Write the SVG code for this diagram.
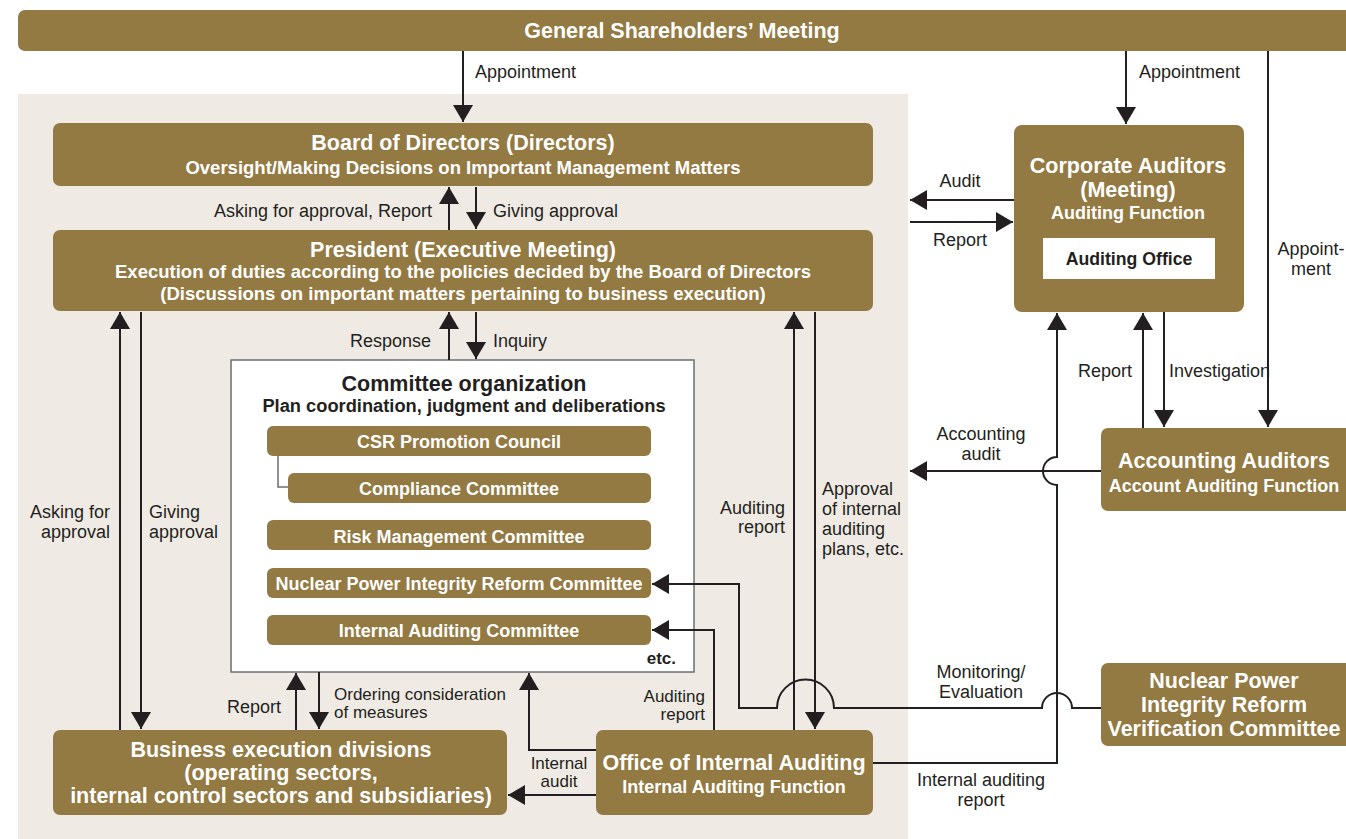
<svg xmlns="http://www.w3.org/2000/svg" width="1346" height="839" viewBox="0 0 1346 839">
<style>
.node{fill:#937a42}
.t{font-family:"Liberation Sans",Arial,sans-serif;fill:#fff;font-weight:bold;text-anchor:middle}
.h{font-size:21.5px}
.s{font-size:18px}
.s2{font-size:18.5px}
.c{font-size:18px}
.lb{font-family:"Liberation Sans",Arial,sans-serif;fill:#231f20;font-size:18px}
.sm{font-size:17px}
.m{text-anchor:middle}
.e{text-anchor:end}
.ln{fill:none;stroke:#231f20;stroke-width:2}
.ar{marker-end:url(#ah)}
</style>
<defs>
<marker id="ah" markerUnits="userSpaceOnUse" markerWidth="18" markerHeight="20" refX="17" refY="10" orient="auto">
<path d="M0,0 L17,10 L0,20 z" fill="#231f20"/>
</marker>
</defs>
<rect x="0" y="0" width="1346" height="839" fill="#fff"/>
<rect x="18" y="94" width="890" height="745" fill="#efebe4"/>

<g id="shareholders">
<rect class="node" x="18" y="10" width="1340" height="41" rx="7"/>
<text class="t h" x="682" y="38">General Shareholders’ Meeting</text>
</g>
<g id="board">
<rect class="node" x="53" y="123" width="820" height="63" rx="7"/>
<text class="t h" x="463" y="150">Board of Directors (Directors)</text>
<text class="t s2" x="463" y="174">Oversight/Making Decisions on Important Management Matters</text>
</g>
<g id="president">
<rect class="node" x="53" y="230" width="820" height="81" rx="7"/>
<text class="t h" x="463" y="257">President (Executive Meeting)</text>
<text class="t s2" x="463" y="278">Execution of duties according to the policies decided by the Board of Directors</text>
<text class="t s2" x="463" y="300">(Discussions on important matters pertaining to business execution)</text>
</g>
<g id="committee">
<rect x="231" y="360" width="463" height="312" fill="#fff" stroke="#6d6e70" stroke-width="1.5"/>
<text class="lb m" x="464" y="391" style="font-weight:bold;font-size:21.5px">Committee organization</text>
<text class="lb m" x="464" y="412" style="font-weight:bold;font-size:18.3px">Plan coordination, judgment and deliberations</text>
<path d="M278,456 V487 H288" fill="none" stroke="#6d6e70" stroke-width="1.5"/>
<g id="csr"><rect class="node" x="267" y="426" width="384" height="30" rx="6"/><text class="t c" x="459" y="448">CSR Promotion Council</text></g>
<g id="compliance"><rect class="node" x="288" y="473" width="363" height="30" rx="6"/><text class="t c" x="459" y="495">Compliance Committee</text></g>
<g id="risk"><rect class="node" x="267" y="520" width="384" height="30" rx="6"/><text class="t c" x="459" y="543">Risk Management Committee</text></g>
<g id="npirc"><rect class="node" x="267" y="568" width="384" height="30" rx="6"/><text class="t c" x="459" y="590">Nuclear Power Integrity Reform Committee</text></g>
<g id="iac"><rect class="node" x="267" y="615" width="384" height="30" rx="6"/><text class="t c" x="459" y="637">Internal Auditing Committee</text></g>
<text class="lb e" x="676" y="664" style="font-weight:bold;font-size:17px">etc.</text>
</g>
<g id="business">
<rect class="node" x="53" y="730" width="454" height="85" rx="7"/>
<text class="t h" x="281" y="757">Business execution divisions</text>
<text class="t h" x="281" y="780">(operating sectors,</text>
<text class="t h" x="281" y="803">internal control sectors and subsidiaries)</text>
</g>
<g id="office">
<rect class="node" x="596" y="730" width="277" height="85" rx="7"/>
<text class="t h" x="734" y="770">Office of Internal Auditing</text>
<text class="t s" x="734" y="793">Internal Auditing Function</text>
</g>
<g id="corporate">
<rect class="node" x="1014" y="125" width="230" height="187" rx="8"/>
<text class="t h" x="1128" y="173">Corporate Auditors</text>
<text class="t h" x="1128" y="197">(Meeting)</text>
<text class="t s" x="1128" y="219">Auditing Function</text>
<rect x="1043" y="238" width="172" height="41" fill="#fff"/>
<text class="lb m" x="1129" y="265" style="font-weight:bold;font-size:17.7px">Auditing Office</text>
</g>
<g id="accounting">
<rect class="node" x="1101" y="428" width="255" height="83" rx="7"/>
<text class="t h" x="1224" y="468">Accounting Auditors</text>
<text class="t s" x="1224" y="492">Account Auditing Function</text>
</g>
<g id="npirvc">
<rect class="node" x="1101" y="663" width="255" height="83" rx="7"/>
<text class="t h" x="1224" y="688">Nuclear Power</text>
<text class="t h" x="1224" y="712">Integrity Reform</text>
<text class="t h" x="1224" y="736">Verification Committee</text>
</g>

<g id="connectors">
<path class="ln ar" d="M463,51 V122"/>
<path class="ln ar" d="M1126,51 V124"/>
<path class="ln ar" d="M1268,51 V427"/>
<path class="ln ar" d="M449,230 V187"/>
<path class="ln ar" d="M476,187 V229"/>
<path class="ln ar" d="M449,360 V312"/>
<path class="ln ar" d="M476,312 V359"/>
<path class="ln ar" d="M120,730 V312"/>
<path class="ln ar" d="M141,312 V729"/>
<path class="ln ar" d="M296,730 V673"/>
<path class="ln ar" d="M319,672 V729"/>
<path class="ln ar" d="M794,730 V312"/>
<path class="ln ar" d="M815,312 V729"/>
<path class="ln ar" d="M1014,200 H910"/>
<path class="ln ar" d="M910,222 H1013"/>
<path class="ln ar" d="M1143,428 V313"/>
<path class="ln ar" d="M1164,312 V427"/>
<path class="ln ar" d="M1101,471 H910"/>
<path class="ln ar" d="M873,763 H1057 V485 A14,14 0 0 1 1057,457 V313"/>
<path class="ln ar" d="M596,795 H508"/>
<path class="ln ar" d="M596,750 H529 V673"/>
<path class="ln ar" d="M714,730 V630 H652"/>
<path class="ln ar" d="M1101,708 H1072 A15,15 0 0 0 1042,708 H834 A28.5,28.5 0 0 0 777,708 H739 V584 H652"/>
</g>

<g id="labels">
<text class="lb" x="475" y="78">Appointment</text>
<text class="lb" x="1139" y="78">Appointment</text>
<text class="lb e" x="432" y="217">Asking for approval, Report</text>
<text class="lb" x="493" y="217">Giving approval</text>
<text class="lb e" x="431" y="347">Response</text>
<text class="lb" x="493" y="347">Inquiry</text>
<text class="lb e" x="110" y="518">Asking for</text>
<text class="lb e" x="110" y="538">approval</text>
<text class="lb" x="149" y="518">Giving</text>
<text class="lb" x="149" y="538">approval</text>
<text class="lb e" x="281" y="713">Report</text>
<text class="lb sm" x="334" y="700">Ordering consideration</text>
<text class="lb sm" x="334" y="718">of measures</text>
<text class="lb m sm" x="559" y="769">Internal</text>
<text class="lb m sm" x="559" y="787">audit</text>
<text class="lb e sm" x="705" y="702">Auditing</text>
<text class="lb e sm" x="705" y="720">report</text>
<text class="lb e" x="785" y="514">Auditing</text>
<text class="lb e" x="785" y="533">report</text>
<text class="lb" x="822" y="495">Approval</text>
<text class="lb" x="822" y="515">of internal</text>
<text class="lb" x="822" y="535">auditing</text>
<text class="lb" x="822" y="555">plans, etc.</text>
<text class="lb m" x="960" y="187">Audit</text>
<text class="lb m" x="960" y="246">Report</text>
<text class="lb m" x="1311" y="255">Appoint-</text>
<text class="lb m" x="1311" y="275">ment</text>
<text class="lb e" x="1132" y="377">Report</text>
<text class="lb" x="1169" y="377">Investigation</text>
<text class="lb m" x="981" y="440">Accounting</text>
<text class="lb m" x="981" y="460">audit</text>
<text class="lb m" x="981" y="678">Monitoring/</text>
<text class="lb m" x="981" y="698">Evaluation</text>
<text class="lb m" x="981" y="786">Internal auditing</text>
<text class="lb m" x="981" y="806">report</text>
</g>
</svg>
